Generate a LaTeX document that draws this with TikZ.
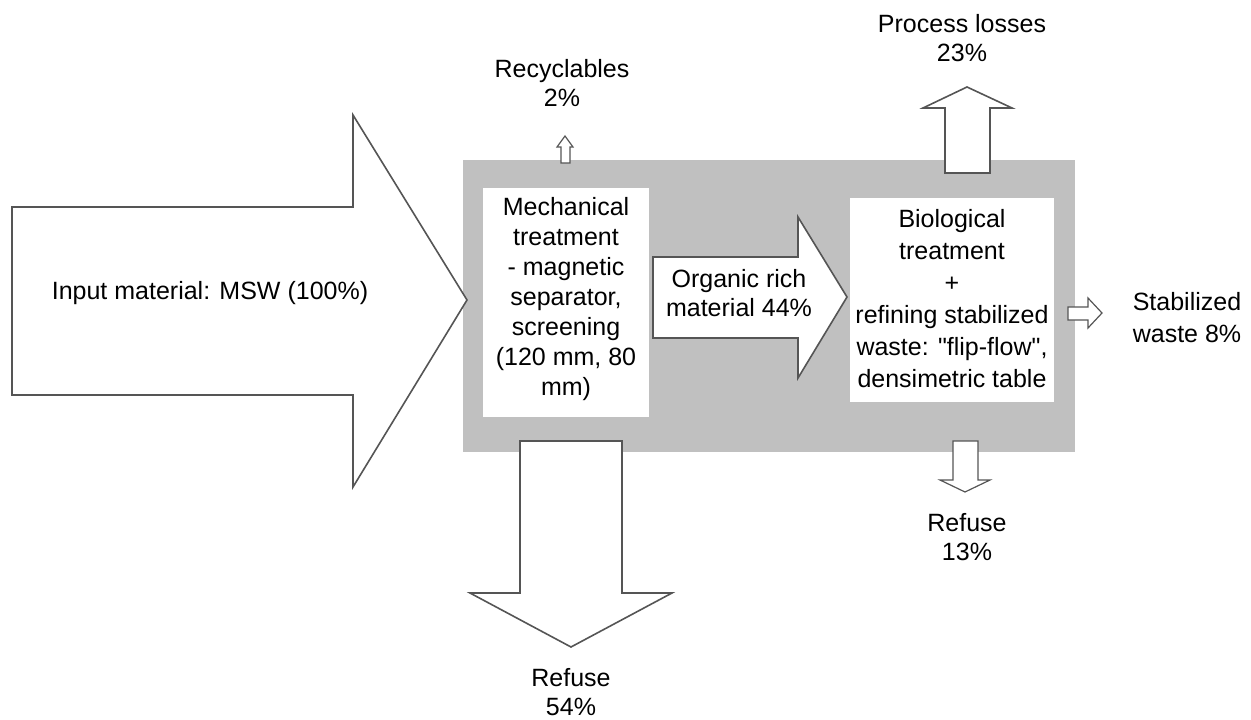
\documentclass[tikz,border=0pt]{standalone}
\usepackage{fontspec}
\setmainfont{Liberation Sans}
\newfontfamily\plainfont{Liberation Sans}
\definecolor{panelgray}{RGB}{192,192,192}
\definecolor{edgegray}{RGB}{85,85,85}
\begin{document}
\begin{tikzpicture}[x=1pt,y=-1pt,
  blk/.style={draw=edgegray, line width=1.6pt, fill=white, line join=miter},
  smallblk/.style={draw=edgegray, line width=1.2pt, fill=white, line join=miter},
  lbl/.style={font=\fontsize{25}{29}\selectfont, align=center, inner sep=0pt},
  wbox/.style={fill=white, inner sep=0pt}]
\useasboundingbox (0,0) rectangle (1251,720);
% grey plant panel
\node[fill=panelgray, inner sep=0pt, minimum width=612pt, minimum height=292pt] (panel) at (769,306) {};
% input arrow
\draw[blk] (12,207) -- (353,207) -- (353,115) -- (467,300) -- (353,487) -- (353,395) -- (12,395) -- cycle;
\node[lbl] (input) at (210,293) {Input material: MSW (100\%)};
% mechanical treatment box
\node[wbox, minimum width=166pt, minimum height=229pt] (mech) at (566,302.5) {};
\node[lbl, font=\fontsize{25}{30}\selectfont] (mechtxt) at (566,299) {Mechanical\\treatment\\- magnetic\\separator,\\screening\\(120 mm, 80\\mm)};
% biological treatment box
\node[wbox, minimum width=204pt, minimum height=204pt] (bio) at (952,300) {};
\node[lbl, font=\fontsize{25}{32}\selectfont] (biotxt) at (952,299) {Biological\\treatment\\+\\refining stabilized\\waste: {\plainfont"}flip-flow{\plainfont"},\\densimetric table};
% organic rich arrow
\draw[blk] (653,257) -- (798,257) -- (798,217) -- (847,297) -- (798,378) -- (798,338) -- (653,338) -- cycle;
\node[lbl] (organic) at (739,293) {Organic rich\\material 44\%};
% recyclables arrow
\draw[smallblk] (561,163) -- (561,147) -- (557,147) -- (565,136) -- (573,147) -- (570,147) -- (570,163) -- cycle;
\node[lbl] (recyc) at (562,83) {Recyclables\\2\%};
% process losses arrow
\draw[blk] (945,173) -- (945,108) -- (923,108) -- (967,87) -- (1012,108) -- (990,108) -- (990,173) -- cycle;
\node[lbl] (losses) at (962,38) {Process losses\\23\%};
% stabilized waste arrow
\draw[smallblk] (1068,307) -- (1088,307) -- (1088,298) -- (1102,313) -- (1088,328) -- (1088,320) -- (1068,320) -- cycle;
\node[lbl, font=\fontsize{25}{32}\selectfont] (stab) at (1187,318) {Stabilized\\waste 8\%};
% refuse 54 arrow
\draw[blk] (520,441) -- (622,441) -- (622,593) -- (672,593) -- (571,647) -- (470,593) -- (520,593) -- cycle;
\node[lbl] (ref54) at (571,692) {Refuse\\54\%};
% refuse 13 arrow
\draw[smallblk] (953,441) -- (978,441) -- (978,480) -- (990,480) -- (965,492) -- (940,480) -- (953,480) -- cycle;
\node[lbl] (ref13) at (967,537) {Refuse\\13\%};
\end{tikzpicture}
\end{document}
